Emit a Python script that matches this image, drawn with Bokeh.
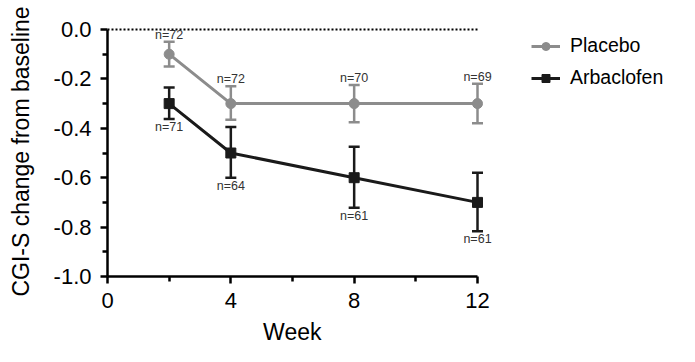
from bokeh.plotting import figure
from bokeh.models import (ColumnDataSource, FixedTicker, Whisker, TeeHead,
                          Legend, LegendItem, Range1d, PrintfTickFormatter, Title)
from bokeh.core.properties import value
from bokeh.embed import file_html
from bokeh.resources import INLINE

weeks = [2, 4, 8, 12]
placebo_mean = [-0.1, -0.3, -0.3, -0.3]
placebo_upper = [-0.05, -0.23, -0.225, -0.22]
placebo_lower = [-0.15, -0.365, -0.375, -0.38]
placebo_n = ["n=72", "n=72", "n=70", "n=69"]

arb_mean = [-0.3, -0.5, -0.6, -0.7]
arb_upper = [-0.235, -0.395, -0.475, -0.58]
arb_lower = [-0.362, -0.6, -0.722, -0.817]
arb_n = ["n=71", "n=64", "n=61", "n=61"]

x_ticks = [0, 4, 8, 12]
x_minor = [2, 6, 10]
y_ticks = [0.0, -0.2, -0.4, -0.6, -0.8, -1.0]
y_minor = [-0.1, -0.3, -0.5, -0.7, -0.9]
baseline_y = 0.0
x_label = "Week"
y_label = "CGI-S change from baseline"

FONT = "Liberation Sans"
GRAY = "#8c8c8c"
BLACK = "#1a1a1a"

# layout (pixels): axis spans x 107..477 for weeks 0..12, y 276..29 for -1..0
W, H = 679, 354
FL, FR, FT, FB = 107, 672, 26, 276
AX_R, AX_T = 477, 29
px_per_week = (AX_R - FL) / (x_ticks[-1] - x_ticks[0])
px_per_unit = (FB - AX_T) / (y_ticks[0] - y_ticks[-1])
x_end = x_ticks[0] + (FR - FL) / px_per_week
y_top = y_ticks[0] + (AX_T - FT) / px_per_unit

p = figure(width=W, height=H, output_backend="svg", toolbar_location=None,
           x_range=Range1d(x_ticks[0], x_end), y_range=Range1d(y_ticks[-1], y_top),
           min_border_left=FL, min_border_right=W - FR,
           min_border_top=FT, min_border_bottom=H - FB)
p.outline_line_color = None
p.grid.grid_line_color = None
p.background_fill_color = None
p.border_fill_color = "white"

src_p = ColumnDataSource(dict(x=weeks, y=placebo_mean, up=placebo_upper, lo=placebo_lower, n=placebo_n))
src_a = ColumnDataSource(dict(x=weeks, y=arb_mean, up=arb_upper, lo=arb_lower, n=arb_n))

# dotted zero reference line across the axis extent
p.line([x_ticks[0], x_ticks[-1]], [baseline_y, baseline_y], line_color="black",
       line_width=1.8, line_dash="2 2")

def series(src, color, marker, size):
    w = Whisker(source=src, base="x", upper="up", lower="lo",
                line_color=color, line_width=2.5,
                upper_head=TeeHead(size=11, line_color=color, line_width=2.5),
                lower_head=TeeHead(size=11, line_color=color, line_width=2.5))
    p.add_layout(w)
    ln = p.line("x", "y", source=src, line_color=color, line_width=3)
    sc = p.scatter("x", "y", source=src, marker=marker, size=size,
                   fill_color=color, line_color=color)
    return ln, sc

lp, sp = series(src_p, GRAY, "circle", 10)
la, sa = series(src_a, BLACK, "square", 10)

p.text("x", "up", text="n", source=src_p, text_align="center", text_baseline="bottom",
       y_offset=0, text_font=value(FONT), text_font_size="12.5px", text_color="#333333")
p.text("x", "lo", text="n", source=src_a, text_align="center", text_baseline="top",
       y_offset=1, text_font=value(FONT), text_font_size="12.5px", text_color="#333333")

for ax in (p.xaxis[0], p.yaxis[0]):
    ax.axis_line_width = 2.5
    ax.axis_line_color = "black"
    ax.major_tick_line_width = 2.5
    ax.minor_tick_line_width = 2.5
    ax.major_tick_in = 0
    ax.minor_tick_in = 0
    ax.major_tick_out = 7
    ax.minor_tick_out = 5
    ax.major_label_text_font = FONT
    ax.major_label_text_font_size = "22px"
    ax.major_label_text_color = "black"
    ax.axis_label_text_font = FONT
    ax.axis_label_text_font_style = "normal"
    ax.axis_label_text_color = "black"

p.xaxis.bounds = (x_ticks[0], x_ticks[-1])
p.yaxis.bounds = (y_ticks[-1], y_ticks[0])
p.xaxis.ticker = FixedTicker(ticks=x_ticks, minor_ticks=x_minor)
p.yaxis.ticker = FixedTicker(ticks=y_ticks, minor_ticks=y_minor)
p.yaxis.formatter = PrintfTickFormatter(format="%.1f")
p.yaxis.axis_label = y_label
p.yaxis.axis_label_text_font_size = "23px"
p.xaxis.major_label_standoff = 9
p.yaxis.major_label_standoff = 9
p.yaxis.axis_label_standoff = 17

# x-axis title centred under the 0..12 axis (not the whole frame)
week_w = 2.556 * 23  # approximate rendered width of the label
p.add_layout(Title(text=x_label, align="left",
                   offset=(AX_R - FL) / 2 - week_w / 2,
                   text_font=FONT, text_font_size="23px", text_font_style="normal",
                   text_color="black", standoff=12, text_line_height=1.6,
                   vertical_align="bottom"), "below")

legend = Legend(items=[LegendItem(label="Placebo", renderers=[lp, sp]),
                       LegendItem(label="Arbaclofen", renderers=[la, sa])],
                location=(424, 187), padding=0, margin=0, spacing=9,
                glyph_width=29, glyph_height=20, label_height=20, label_standoff=10,
                label_text_font=FONT, label_text_font_size="19.5px", label_text_color="black",
                border_line_color=None, background_fill_alpha=0)
p.add_layout(legend)

open("out.html", "w").write(file_html(p, INLINE))
